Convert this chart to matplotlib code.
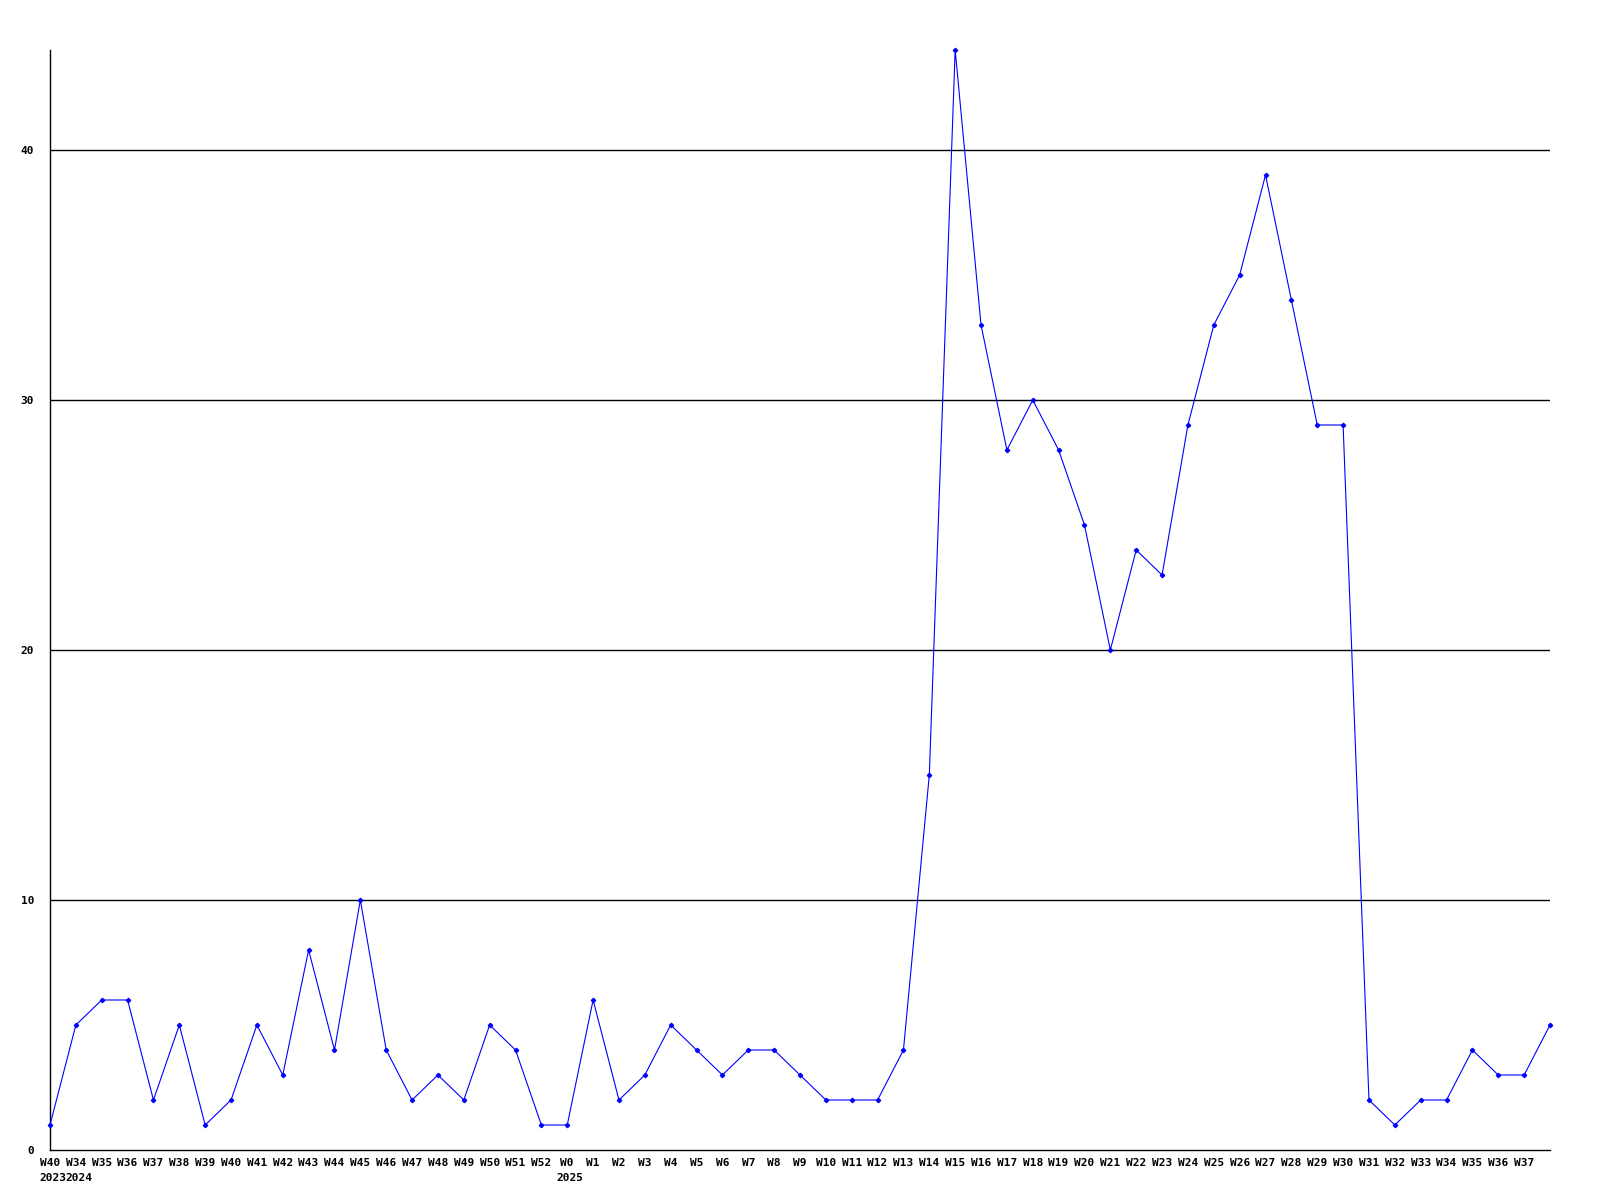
import matplotlib
matplotlib.use("Agg")
import matplotlib.pyplot as plt

weeks = ["W40", "W34", "W35", "W36", "W37", "W38", "W39", "W40", "W41", "W42",
         "W43", "W44", "W45", "W46", "W47", "W48", "W49", "W50", "W51", "W52",
         "W0", "W1", "W2", "W3", "W4", "W5", "W6", "W7", "W8", "W9",
         "W10", "W11", "W12", "W13", "W14", "W15", "W16", "W17", "W18", "W19",
         "W20", "W21", "W22", "W23", "W24", "W25", "W26", "W27", "W28", "W29",
         "W30", "W31", "W32", "W33", "W34", "W35", "W36", "W37", "W38"]
counts = [1, 5, 6, 6, 2, 5, 1, 2, 5, 3,
          8, 4, 10, 4, 2, 3, 2, 5, 4, 1,
          1, 6, 2, 3, 5, 4, 3, 4, 4, 3,
          2, 2, 2, 4, 15, 44, 33, 28, 30, 28,
          25, 20, 24, 23, 29, 33, 35, 39, 34, 29,
          29, 2, 1, 2, 2, 4, 3, 3, 5]
years = {0: "2023", 1: "2024", 20: "2025"}
yticks = [0, 10, 20, 30, 40]

font = dict(family="DejaVu Sans Mono", weight="bold", size=8)

fig = plt.figure(figsize=(16, 12), dpi=100)
ax = fig.add_axes([50 / 1600, 50 / 1200, 1500 / 1600, 1100 / 1200])

x = list(range(len(counts)))
ax.plot(x, counts, color="#0000ff", lw=0.8, marker="D", ms=2.2,
        mec="#0000ff", mfc="#0000ff", clip_on=False, zorder=3)

ax.set_xlim(0, len(counts) - 1)
ax.set_ylim(0, max(counts))

for v in yticks[1:]:
    ax.axhline(v, color="black", lw=1.0, zorder=1)

ax.set_yticks(yticks)
ax.set_yticklabels([str(v) for v in yticks], **font)
ax.tick_params(axis="y", length=0, pad=11.5)

# last point sits on the right edge without a label
ax.set_xticks(x[:-1])
ax.set_xticklabels(weeks[:-1], **font)
ax.tick_params(axis="x", length=0, pad=5.5)

for i, yr in years.items():
    ax.annotate(yr, xy=(i, 0), xycoords=("data", "axes fraction"),
                xytext=(-7.5, -20), textcoords="offset points",
                ha="left", va="center", **font)

for s in ["top", "right"]:
    ax.spines[s].set_visible(False)
ax.spines["left"].set_linewidth(1.0)
ax.spines["bottom"].set_linewidth(1.0)

fig.savefig("out.png", dpi=100)
